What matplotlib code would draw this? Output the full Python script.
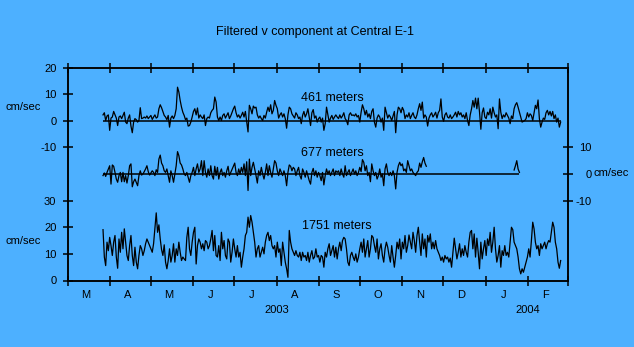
import numpy as np
import pandas as pd
import matplotlib
matplotlib.use("Agg")
import matplotlib.pyplot as plt
import matplotlib.dates as mdates
import matplotlib.transforms as mtransforms
import datetime as dt

plt.rcParams['font.family'] = ['Liberation Sans', 'DejaVu Sans']

BG = '#4db0ff'

# filtered v component (cm/sec), roughly daily, 2003-03-27 .. 2004-02-25
v_461 = [
    2.2, 3.0, 0.1, 1.8, 2.2, -3.6, 1.0, 1.4, 3.5, 2.2, 1.0, -1.8, 1.4, 1.8, 0.8, 2.0, 3.2, -0.5, -1.1, 1.0,
    2.2, -2.0, -4.5, -0.5, 0.8, 0.4, -0.5, 0.1, 4.9, 0.8, 1.0, 1.4, 1.0, 1.8, 0.8, 1.4, 2.0, 0.5, 1.4, 2.2,
    1.0, 1.4, 4.5, 6.0, 4.9, 3.5, 2.0, 1.4, 0.4, 2.0, -2.4, 1.0, 1.8, 0.8, 2.0, 4.5, 12.6, 10.8, 7.6, 5.1,
    3.2, 2.0, 0.4, 1.0, -2.0, -1.8, -0.5, 1.4, 3.5, 4.5, 2.2, 4.8, 1.0, 2.2, 1.4, 0.8, 2.2, -1.8, 0.8, 1.4,
    1.0, 3.0, 3.9, 4.5, 8.9, 7.0, 1.4, 0.1,
    1.4, 0.1, 2.0, 2.6, 1.0, 2.0, 3.0, 0.8, 1.8, 3.2, 4.5, 5.5, 3.0, 1.4, 2.2, 1.0, 2.0, 3.2, 1.4, 3.5,
    -0.5, -4.2, 5.8, 4.5, 2.6, 5.5, 4.8, 5.1, 2.2, 1.0, 1.8, 0.8, 0.1, 2.0, 1.0, 3.2, 5.1, 3.5, 6.0, 2.6,
    3.9, 7.6, 5.8, 4.5, 1.0, 2.2, 3.0, 1.4, 2.6, 0.8, -2.8, 2.2, 5.1, 4.5, 2.6, 1.8, 1.0, 3.0, 2.2, 0.8,
    1.4, -1.1, 2.0, 3.5, 1.4, 2.6, 4.5, 1.4, -1.8, 3.0, 4.2, 1.0, 1.8, -0.5, 0.8, 1.4, -0.5, 1.0, -3.6, -1.1,
    5.1, 2.2, -0.5, 1.0, 2.0, 0.5, 1.4, 2.2,
    1.4, 0.8, 2.2, 1.0, 1.8, 3.0, 0.8, 0.1, -1.5, 2.2, 3.0, 2.0, 2.2, 1.8, 2.6, 1.4, 2.0, -0.5, 3.2, 6.0,
    4.5, 2.2, 3.9, 1.4, 2.6, 0.8, 3.5, 4.5, -0.5, -2.4, 1.0, 2.2, 1.4, -0.5, 1.0, -3.6, 5.1, 3.0, 1.0, 2.2,
    1.4, 0.1, 1.8, 3.5, -4.5, 2.2, 5.1, 4.5, 3.0, 5.0, 3.9, 0.8, 2.2, 1.4, 3.0, 0.8, 2.0, 3.0, 1.4, 0.8,
    2.2, 4.5, 6.4, 3.9, 7.0, 1.0, 2.2, 1.4, -2.0, 1.0, 2.2, 3.0, 1.4, 2.2, 3.2, 1.0, 3.0, 3.9, 8.2, 1.4,
    -0.2, 2.2, 3.0, 1.4, 1.0, 2.2, 0.8, 1.4,
    2.2, 3.2, 1.4, 3.5, 2.2, 3.0, 1.4, 2.2, 0.8, 3.0, 0.1, -1.8, 2.2, 4.5, 7.6, 5.1, 8.5, 4.5, 8.5, 3.2,
    -3.2, 3.0, 4.8, 1.4, 0.8, 3.2, 2.2, 4.5, 1.0, 5.1, 3.0, 1.4, 2.2, -3.0, 8.2, 3.2, 0.8, 2.2, 1.4, 3.0,
    2.0, 1.0, -1.1, 1.8, 0.8, 4.5, 6.0, 6.8, 5.1, 3.2, 1.4, -0.5, -0.2, 0.1, 0.8, 3.0, 1.4, 2.6, 2.0, 0.1,
    3.0, 5.8, 4.5, 7.8, 0.8, -2.4, -0.5, 1.0, 0.5, 3.0, 3.9, 2.2, 3.5, 1.8, 3.5, 0.8, 2.2, -0.5, 1.0, -2.4,
    -0.5,
]

# 677 m record stops in November, plus a short piece in January
v_677_main = [
    -0.6, 0.4, -0.9, 0.6, 1.9, 3.1, -3.8, 3.4, 2.9, 0.6, -1.9, -3.1, -0.6, 0.6, -2.9, 0.6, -2.9, -0.6, -3.4, -0.6,
    3.1, 3.8, -4.8, -2.9, -1.9, -3.1, -4.4, -0.6, 1.2, -0.4, 0.0, 0.9, 1.9, 3.1, 0.9, -0.4, 0.4, 1.2, 0.6, -0.6,
    1.6, 0.6, 5.6, 7.1, 4.1, 3.1, 1.2, 0.6, 1.9, -0.6, -3.1, 1.2, -0.6, -3.1, 0.0, 3.1, 8.4, 6.9, 4.1, 3.4,
    1.9, 0.0, -0.6, 0.6, -1.2, -3.1, -0.6, 0.6, 2.5, -0.6, 1.9, 3.8, 0.6, 1.9, 5.0, -0.6, 5.0, 0.6, -1.2, 1.9,
    -0.6, 3.1, -0.6, -1.9, 2.9, -0.6, 2.5, -1.9,
    0.6, 1.9, -0.6, 0.6, -1.2, 1.2, 2.9, -0.6, 0.6, 1.9, 3.1, 4.1, 0.6, -0.6, 1.9, 0.0, 2.5, 0.6, 3.8, -0.6,
    4.6, -6.2, 5.6, -0.6, 2.5, 4.4, 1.9, -0.6, -3.4, 1.2, -0.6, 2.5, 0.0, -1.9, 0.6, 3.8, -0.6, 3.1, 0.6, -1.2,
    1.9, 5.0, 4.1, 1.2, -0.6, 1.9, 0.6, -0.6, 1.2, -0.6, -4.4, 0.6, 3.4, 2.9, 1.2, 2.5, 1.9, -0.6, 1.2, 2.5,
    -0.6, -1.9, 1.9, 0.6, -1.2, 1.2, -0.6, -2.5, -3.8, 0.6, 2.1, -0.6, 1.2, -1.2, 0.6, -0.6, -2.5, 0.6, -4.1, -0.6,
    1.9, 0.0, 1.2, -0.6, 0.6, 1.9, -0.6, 1.2,
    0.6, 1.2, -0.6, 1.9, 0.0, -1.2, 3.1, -0.6, 0.6, 1.6, -0.6, 0.6, 1.9, 0.0, 1.2, -0.6, 0.6, 2.5, 0.9, 5.4,
    4.4, 1.2, 3.1, -0.6, 0.6, -2.9, 3.8, 1.2, -0.6, 0.6, -1.9, -0.6, 1.9, -1.2, 0.0, -4.4, 1.9, 3.8, 0.6, -0.6,
    0.6, -0.6, 1.2, -0.6, -5.6, 0.6, 3.1, 4.4, 3.1, 3.8, 1.2, 1.9, 0.6, 5.0, 3.1, 1.2, 1.9, 0.6, 0.0, -0.6,
    0.6, 1.2, 4.1, 2.5, 4.6, 6.2, 4.1, 2.9,
]
v_677_jan = [1.5, 3.1, 5.0, 1.9, 0.6]
jan_start = 309

v_1751 = [
    19.1, 8.8, 5.6, 14.4, 11.2, 16.2, 13.1, 9.4, 14.4, 16.9, 8.8, 4.6, 15.6, 10.6, 18.1, 11.9, 19.4, 14.4, 9.4, 7.5,
    13.1, 16.9, 9.4, 5.6, 12.5, 6.9, 4.4, 9.4, 13.1, 11.9, 9.4, 11.2, 13.8, 15.6, 14.4, 13.1, 11.9, 10.6, 13.8, 19.4,
    25.4, 18.1, 20.9, 15.6, 11.6, 9.4, 13.4, 6.9, 4.4, 7.5, 11.9, 6.9, 9.4, 13.8, 6.9, 11.9, 9.4, 14.4, 10.6, 7.5,
    8.8, 8.1, 7.5, 16.2, 20.0, 11.9, 9.4, 14.4, 18.1, 20.0, 6.2, 13.1, 15.6, 14.4, 11.9, 13.8, 11.2, 15.0, 14.4, 11.9,
    13.1, 15.6, 18.8, 11.2, 16.9, 9.4, 8.8, 13.1,
    7.5, 18.1, 11.9, 15.0, 9.4, 8.1, 15.6, 14.4, 6.9, 10.6, 15.6, 11.9, 8.8, 13.1, 8.8, 10.6, 5.0, 8.8, 11.9, 16.9,
    18.1, 23.8, 20.0, 24.4, 21.9, 18.1, 14.4, 8.8, 11.9, 13.1, 8.8, 10.6, 12.5, 10.0, 14.4, 16.9, 18.1, 15.0, 16.9, 13.1,
    11.9, 13.1, 8.8, 14.4, 10.6, 11.9, 5.6, 14.4, 10.6, 6.9, 4.4, 1.2, 18.8, 14.4, 11.9, 10.6, 9.4, 11.2, 9.4, 8.8,
    10.6, 7.5, 10.6, 8.8, 9.4, 7.5, 10.6, 6.9, 9.4, 11.2, 8.1, 8.8, 11.9, 8.8, 9.4, 6.9, 9.4, 8.8, 5.0, 10.6,
    8.8, 11.9, 13.8, 9.4, 11.2, 13.1, 8.8, 12.5,
    8.1, 11.9, 14.4, 11.2, 15.0, 16.2, 15.6, 11.9, 6.9, 5.6, 9.4, 10.6, 8.8, 7.5, 10.0, 6.9, 8.8, 11.9, 14.4, 10.6,
    15.6, 8.8, 11.9, 15.0, 8.8, 11.9, 16.9, 16.2, 13.1, 10.6, 15.6, 8.1, 11.9, 13.8, 9.4, 6.9, 11.9, 14.4, 12.5, 9.4,
    6.9, 13.1, 8.8, 5.0, 9.4, 14.4, 11.9, 15.6, 8.1, 14.4, 11.9, 16.9, 10.6, 13.1, 17.1, 14.4, 11.9, 18.1, 15.0, 10.6,
    16.9, 20.0, 14.4, 9.4, 17.5, 11.9, 15.6, 8.8, 16.9, 14.4, 17.5, 11.9, 14.4, 11.9, 15.0, 11.9, 10.6, 9.4, 7.5, 8.8,
    6.9, 9.4, 8.1, 8.8, 6.9, 8.4, 5.0, 10.6,
    15.9, 11.9, 8.1, 10.6, 13.8, 8.8, 11.9, 9.4, 13.1, 10.6, 8.8, 14.4, 18.1, 18.8, 11.9, 17.5, 8.8, 15.9, 10.6, 4.4,
    14.4, 8.1, 11.9, 15.0, 9.4, 15.6, 13.1, 18.1, 10.6, 14.4, 20.0, 11.9, 6.9, 9.4, 13.1, 5.0, 11.2, 9.4, 13.1, 9.4,
    10.6, 8.8, 14.4, 20.0, 19.1, 14.4, 13.1, 11.9, 8.8, 4.4, 2.5, 4.4, 3.1, 5.0, 6.9, 8.8, 11.9, 8.8, 15.0, 21.9,
    19.4, 14.4, 11.9, 13.1, 9.4, 13.8, 11.9, 13.1, 14.4, 11.9, 13.8, 15.0, 14.4, 18.1, 21.9, 20.0, 14.4, 11.9, 6.9, 4.6,
    7.5,
]

series_labels = ['461 meters', '677 meters', '1751 meters']
month_letters = ['J', 'F', 'M', 'A', 'M', 'J', 'J', 'A', 'S', 'O', 'N', 'D']

# vertical stacking of the three records on one axis
off_461, off_677, off_1751 = 60, 40, 0

dates = pd.date_range('2003-03-27', '2004-02-25', periods=len(v_461))
v461 = np.array(v_461)
v1751 = np.array(v_1751)
v677 = np.full(len(dates), np.nan)
v677[:len(v_677_main)] = v_677_main
v677[jan_start:jan_start + len(v_677_jan)] = v_677_jan
end_677 = jan_start + len(v_677_jan) - 1

fig = plt.figure(figsize=(6.34, 3.47), dpi=100, facecolor=BG)
ax = fig.add_axes([67.5 / 634, 1 - 280.5 / 347, 500 / 634, 213 / 347])
ax.set_facecolor(BG)

lw = 0.9
ax.plot(dates, v461 + off_461, color='black', lw=lw)
ax.hlines(off_461, dates[0], dates[-1], color='black', lw=1.1)
ax.plot(dates, v677 + off_677, color='black', lw=lw)
ax.hlines(off_677, dates[0], dates[end_677], color='black', lw=1.1)
ax.plot(dates, v1751 + off_1751, color='black', lw=lw)

ax.set_xlim(dt.datetime(2003, 3, 1), dt.datetime(2004, 3, 1))
ax.set_ylim(0, 80)

ax.xaxis.set_major_locator(mdates.MonthLocator())
ax.xaxis.set_major_formatter(plt.NullFormatter())
ax.xaxis.set_minor_locator(mdates.MonthLocator(bymonthday=14))
ax.xaxis.set_minor_formatter(plt.FuncFormatter(
    lambda x, p: month_letters[mdates.num2date(x).month - 1]))

ax.set_yticks([0, 10, 20, 30, 50, 60, 70, 80])
ax.set_yticklabels(['0', '10', '20', '30', '-10', '0', '10', '20'])

ax.tick_params(axis='x', which='major', direction='inout', length=7, width=1.1, top=True)
ax.tick_params(axis='x', which='minor', length=0, pad=7, labelsize=8)
ax.tick_params(axis='y', direction='inout', length=7, width=1.1, pad=4.5, labelsize=8)

ax2 = ax.twinx()
ax2.set_ylim(0, 80)
ax2.set_yticks([30, 40, 50])
ax2.set_yticklabels(['-10', '0', '10'])
ax2.tick_params(axis='y', direction='inout', length=7, width=1.1, pad=14, labelsize=8)
for lab in ax2.get_yticklabels():
    lab.set_horizontalalignment('right')

for a in (ax, ax2):
    for s in a.spines.values():
        s.set_linewidth(1.1)

fig.text(315 / 634, 1 - 32 / 347, 'Filtered v component at Central E-1',
         ha='center', va='center', fontsize=9)

ax.text(0.529, 0.856, series_labels[0], transform=ax.transAxes, ha='center', va='center', fontsize=9)
ax.text(0.529, 0.598, series_labels[1], transform=ax.transAxes, ha='center', va='center', fontsize=9)
ax.text(0.538, 0.254, series_labels[2], transform=ax.transAxes, ha='center', va='center', fontsize=9)

fig.text(6 / 634, 1 - 107.5 / 347, 'cm/sec', ha='left', va='center', fontsize=8)
fig.text(6 / 634, 1 - 241 / 347, 'cm/sec', ha='left', va='center', fontsize=8)
fig.text(594 / 634, 1 - 173.5 / 347, 'cm/sec', ha='left', va='center', fontsize=8)

yr = mtransforms.blended_transform_factory(ax.transData, fig.transFigure)
ax.text(dt.datetime(2003, 8, 1), 1 - 310 / 347, '2003', transform=yr, ha='center', va='center', fontsize=8)
ax.text(dt.datetime(2004, 2, 1), 1 - 310 / 347, '2004', transform=yr, ha='center', va='center', fontsize=8)

fig.savefig('out.png', dpi=100, facecolor=BG)
